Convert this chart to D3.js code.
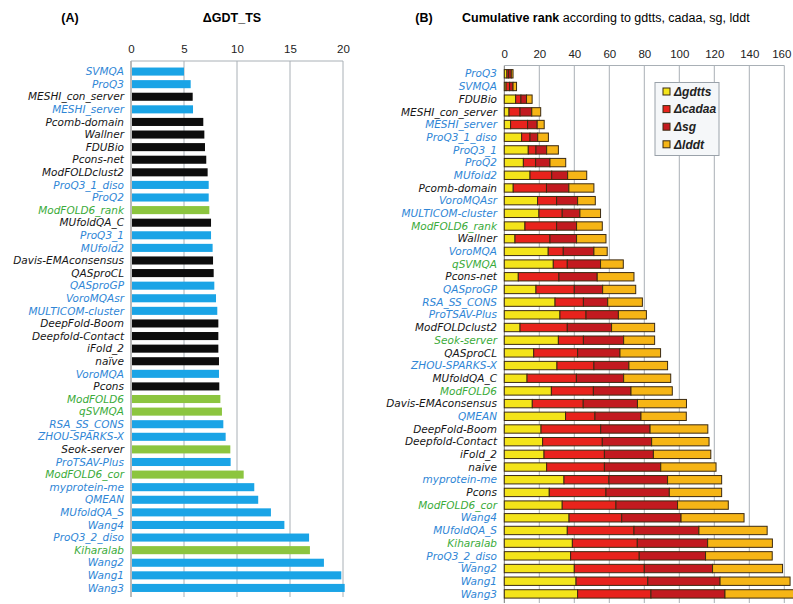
<!DOCTYPE html>
<html lang="en">
  <head>
    <meta charset="utf-8" />
    <title>QA method ranking</title>
    <script src="https://cdn.jsdelivr.net/npm/d3@7"></script>
    <style>
      body {
        margin: 0;
        background: #fff;
      }
      svg {
        font-family: "Liberation Sans", Arial, sans-serif;
      }
      .name {
        font-family: "DejaVu Sans", sans-serif;
        font-style: italic;
        font-size: 10.5px;
      }
      .axis text {
        font-size: 11.5px;
        fill: #222;
      }
      .axis path,
      .axis line {
        stroke: none;
      }
      .grid line {
        stroke: #a9b0b6;
        stroke-width: 1;
      }
    </style>
  </head>

  <body>
    <svg id="chart"></svg>

    <script>
      // ---- data: panel A (delta GDT_TS) ----
      const namesA = [
        "SVMQA", "ProQ3", "MESHI_con_server", "MESHI_server", "Pcomb-domain", "Wallner", "FDUBio",
        "Pcons-net", "ModFOLDclust2", "ProQ3_1_diso", "ProQ2", "ModFOLD6_rank", "MUfoldQA_C", "ProQ3_1",
        "MUfold2", "Davis-EMAconsensus", "QASproCL", "QASproGP", "VoroMQAsr", "MULTICOM-cluster",
        "DeepFold-Boom", "Deepfold-Contact", "iFold_2", "naïve", "VoroMQA", "Pcons", "ModFOLD6", "qSVMQA",
        "RSA_SS_CONS", "ZHOU-SPARKS-X", "Seok-server", "ProTSAV-Plus", "ModFOLD6_cor", "myprotein-me",
        "QMEAN", "MUfoldQA_S", "Wang4", "ProQ3_2_diso", "Kiharalab", "Wang2", "Wang1", "Wang3"
      ];
      const gdtA = [
        5.0, 5.63, 5.82, 5.85, 6.82, 6.92, 6.98, 7.1, 7.23, 7.33, 7.33, 7.39, 7.55, 7.55, 7.7, 7.74, 7.8,
        7.86, 8.02, 8.14, 8.24, 8.24, 8.24, 8.3, 8.3, 8.33, 8.43, 8.58, 8.71, 8.93, 9.37, 9.4, 10.63,
        11.63, 12.0, 13.2, 14.47, 16.8, 16.88, 18.2, 19.84, 20.16
      ];
      // s = single-model, c = consensus, q = quasi-single
      const groupA = [
        "s", "s", "c", "s", "c", "c", "c", "c", "c", "s", "s", "q", "c", "s", "s", "c", "c", "s", "s", "s",
        "c", "c", "c", "c", "s", "c", "q", "q", "s", "s", "q", "s", "q", "s", "s", "s", "s", "s", "q", "s",
        "s", "s"
      ];
      const plainLabelsA = ["Seok-server"];
      const ticksA = [0, 5, 10, 15, 20];

      // ---- data: panel B (cumulative rank) ----
      const namesB = [
        "ProQ3", "SVMQA", "FDUBio", "MESHI_con_server", "MESHI_server", "ProQ3_1_diso", "ProQ3_1", "ProQ2",
        "MUfold2", "Pcomb-domain", "VoroMQAsr", "MULTICOM-cluster", "ModFOLD6_rank", "Wallner", "VoroMQA",
        "qSVMQA", "Pcons-net", "QASproGP", "RSA_SS_CONS", "ProTSAV-Plus", "ModFOLDclust2", "Seok-server",
        "QASproCL", "ZHOU-SPARKS-X", "MUfoldQA_C", "ModFOLD6", "Davis-EMAconsensus", "QMEAN",
        "DeepFold-Boom", "Deepfold-Contact", "iFold_2", "naive", "myprotein-me", "Pcons", "ModFOLD6_cor",
        "Wang4", "MUfoldQA_S", "Kiharalab", "ProQ3_2_diso", "Wang2", "Wang1", "Wang3"
      ];
      const groupB = [
        "s", "s", "c", "c", "s", "s", "s", "s", "s", "c", "s", "s", "q", "c", "s", "q", "c", "s", "s", "s",
        "c", "q", "c", "s", "c", "q", "c", "s", "c", "c", "c", "c", "s", "c", "q", "s", "s", "q", "s", "s",
        "s", "s"
      ];
      const gdttsB = [
        1.5, 1, 6.5, 2.7, 3.6, 9.9, 13.7, 10.9, 14.7, 5.1, 19, 19.8, 11.8, 6.1, 25.1, 28, 8, 18.1, 29, 31.8,
        9, 30.9, 16.8, 30.1, 13, 26.9, 16, 35, 21, 21.9, 22.7, 24.2, 34.1, 25.7, 33.1, 37, 36, 38.9, 37.9,
        40, 41, 41.9
      ];
      const cadaaB = [
        1, 2, 3, 6.3, 9.7, 4.8, 4.4, 7, 12.4, 19, 10.9, 13.3, 18.1, 20, 8.6, 8, 23.2, 21.9, 16.2, 14.9, 27,
        14.3, 25.1, 21.1, 28.2, 24, 29.1, 16.8, 34.1, 34.1, 34.5, 33, 25.7, 32.4, 30.7, 30.1, 38.1, 37.1,
        39.2, 40, 41, 41.9
      ];
      const sgB = [
        1.5, 2, 3.2, 6.7, 5.5, 4.4, 6.1, 8.2, 9.1, 12.8, 12, 10.1, 11.4, 15.2, 17.5, 19, 21.9, 16.2, 13.9,
        18.5, 25.3, 23, 24.2, 20, 27, 21.5, 31, 26.3, 28.2, 28.2, 28, 32.2, 33.5, 36.2, 35.2, 33.9, 37.1,
        40.2, 37.9, 39, 41.3, 42.3
      ];
      const lddtB = [
        1, 2, 3.2, 5.1, 4, 6.1, 6.7, 9, 10.9, 14.3, 10.1, 11.8, 14.7, 16.8, 7.6, 13, 21, 18.9, 19.8, 16,
        24.6, 17.7, 23.2, 22.1, 26.9, 23.6, 28, 25.9, 33, 32.8, 32.8, 31.6, 30.9, 29.9, 29, 36, 39, 37,
        38.1, 40, 40, 40
      ];
      const measures = ["gdtts", "cadaa", "sg", "lddt"];
      const ticksB = [0, 20, 40, 60, 80, 100, 120, 140, 160];

      // ---- styling ----
      const barColor = d3.scaleOrdinal().domain(["s", "c", "q"]).range(["#1aa4e6", "#0d0d0d", "#8cc53f"]);
      const textColor = d3.scaleOrdinal().domain(["s", "c", "q"]).range(["#2f86d6", "#161616", "#3bab3a"]);
      const segColor = d3
        .scaleOrdinal()
        .domain(measures)
        .range(["#f4e41a", "#e8231c", "#c21a1f", "#f6b516"]);

      const svg = d3.select("#chart").attr("width", 793).attr("height", 604);

      // ================= Panel A =================
      const xA = d3.scaleLinear().domain([0, 20]).range([131, 343]);
      const yA = d3.scaleBand().domain(namesA).range([63, 596.5]).padding(0.36);
      const gA = svg.append("g");

      gA.append("g")
        .attr("class", "grid")
        .selectAll("line")
        .data(ticksA)
        .join("line")
        .attr("x1", d => xA(d))
        .attr("x2", d => xA(d))
        .attr("y1", 61)
        .attr("y2", 597)
        .style("stroke", d => (d === 0 ? "#777" : null));

      gA.append("line")
        .attr("x1", xA(0))
        .attr("x2", xA(20))
        .attr("y1", 61)
        .attr("y2", 61)
        .attr("stroke", "#a9b0b6");

      gA.append("g")
        .attr("class", "axis")
        .attr("transform", "translate(0,60)")
        .call(d3.axisTop(xA).tickValues(ticksA).tickSize(0).tickPadding(7));

      gA.selectAll("rect.bar")
        .data(namesA)
        .join("rect")
        .attr("class", "bar")
        .attr("x", xA(0) + 1)
        .attr("y", d => yA(d))
        .attr("width", (d, i) => xA(gdtA[i]) - xA(0) - 1)
        .attr("height", yA.bandwidth())
        .attr("fill", (d, i) => barColor(groupA[i]));

      gA.selectAll("text.name")
        .data(namesA)
        .join("text")
        .attr("class", "name")
        .attr("x", 124)
        .attr("y", d => yA(d) + yA.bandwidth() / 2)
        .attr("dy", "0.35em")
        .attr("text-anchor", "end")
        .attr("fill", (d, i) => (plainLabelsA.includes(d) ? textColor("c") : textColor(groupA[i])))
        .text(d => d);

      svg.append("text")
        .attr("x", 70)
        .attr("y", 22)
        .attr("text-anchor", "middle")
        .attr("font-weight", "bold")
        .attr("font-size", 12.5)
        .text("(A)");

      svg.append("text")
        .attr("x", 232)
        .attr("y", 22)
        .attr("text-anchor", "middle")
        .attr("font-weight", "bold")
        .attr("font-size", 12.5)
        .text("ΔGDT_TS");

      // ================= Panel B =================
      const xB = d3.scaleLinear().domain([0, 160]).range([504.3, 784.3]);
      const yB = d3.scaleBand().domain(namesB).range([65.3, 602.4]).padding(0.34);
      const gB = svg.append("g");

      gB.append("g")
        .attr("class", "grid")
        .selectAll("line")
        .data(ticksB)
        .join("line")
        .attr("x1", d => xB(d))
        .attr("x2", d => xB(d))
        .attr("y1", 65.5)
        .attr("y2", 603)
        .style("stroke", d => (d === 0 ? "#777" : null));

      gB.append("line")
        .attr("x1", xB(0))
        .attr("x2", xB(160))
        .attr("y1", 65.5)
        .attr("y2", 65.5)
        .attr("stroke", "#a9b0b6");

      gB.append("g")
        .attr("class", "axis")
        .attr("transform", "translate(0,65)")
        .call(d3.axisTop(xB).tickValues(ticksB).tickSize(0).tickPadding(7))
        .selectAll(".tick text")
        .filter(d => d === 160)
        .attr("dx", -3);

      const rows = namesB.map((name, i) => ({
        name,
        gdtts: gdttsB[i],
        cadaa: cadaaB[i],
        sg: sgB[i],
        lddt: lddtB[i]
      }));
      const stacked = d3.stack().keys(measures)(rows);

      gB.selectAll("g.layer")
        .data(stacked)
        .join("g")
        .attr("class", "layer")
        .attr("fill", d => segColor(d.key))
        .selectAll("rect")
        .data(d => d)
        .join("rect")
        .attr("x", d => xB(d[0]))
        .attr("y", d => yB(d.data.name))
        .attr("width", d => xB(d[1]) - xB(d[0]))
        .attr("height", yB.bandwidth())
        .attr("stroke", "#3b2a12")
        .attr("stroke-width", 1);

      gB.selectAll("text.name")
        .data(namesB)
        .join("text")
        .attr("class", "name")
        .attr("x", 497)
        .attr("y", d => yB(d) + yB.bandwidth() / 2)
        .attr("dy", "0.35em")
        .attr("text-anchor", "end")
        .attr("fill", (d, i) => textColor(groupB[i]))
        .text(d => d);

      svg.append("text")
        .attr("x", 424)
        .attr("y", 22)
        .attr("text-anchor", "middle")
        .attr("font-weight", "bold")
        .attr("font-size", 12.5)
        .text("(B)");

      const title = svg.append("text").attr("x", 462).attr("y", 22).attr("font-size", 12.5);
      title.append("tspan").attr("font-weight", "bold").text("Cumulative rank");
      title.append("tspan").text(" according to gdtts, cadaa, sg, lddt");

      // legend
      const legend = svg.append("g").attr("transform", "translate(655,82.5)");
      legend.append("rect")
        .attr("width", 64)
        .attr("height", 73)
        .attr("fill", "#f5f7f9")
        .attr("stroke", "#9aa2aa");
      const item = legend
        .selectAll("g.item")
        .data(measures)
        .join("g")
        .attr("class", "item")
        .attr("transform", (d, i) => `translate(8,${9 + i * 17.6})`);
      item.append("rect")
        .attr("y", -3.5)
        .attr("width", 7)
        .attr("height", 7)
        .attr("fill", d => segColor(d))
        .attr("stroke", "#3b2a12");
      item.append("text")
        .attr("x", 11)
        .attr("dy", "0.35em")
        .attr("font-style", "italic")
        .attr("font-weight", "bold")
        .attr("font-size", 12)
        .attr("fill", "#222")
        .text(d => "Δ" + d);
    </script>
  </body>
</html>
